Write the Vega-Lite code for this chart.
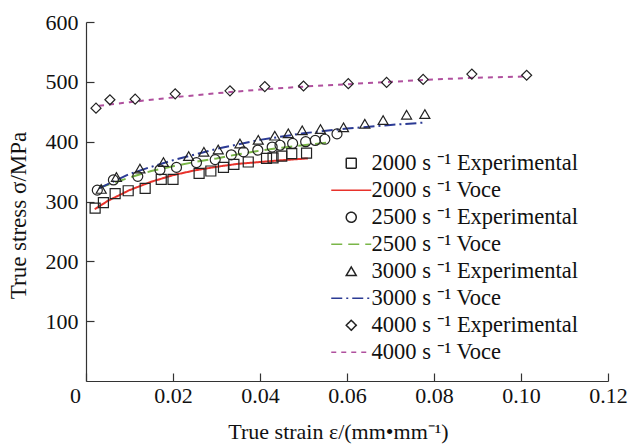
{
  "$schema": "https://vega.github.io/schema/vega-lite/v6.json",
  "width": 522,
  "height": 359,
  "autosize": "none",
  "padding": {"left": 86, "top": 22, "right": 20, "bottom": 66},
  "config": {
    "view": {"stroke": null},
    "font": "Liberation Serif",
    "axis": {
      "labelFont": "Liberation Serif", "titleFont": "Liberation Serif",
      "labelFontSize": 22, "titleFontSize": 22, "labelColor": "#111", "titleColor": "#111",
      "titleFontWeight": "normal", "domainColor": "#333", "tickColor": "#333",
      "grid": false, "tickSize": -8, "domainWidth": 1.2, "tickWidth": 1.2
    },
    "legend": {"labelFont": "Liberation Serif", "labelFontSize": 22.5, "labelColor": "#111", "labelLimit": 400}
  },
  "datasets": {
    "pts": [
      {"series": "2000 s ⁻¹ Experimental", "strain": 0.0021, "stress": 289},
      {"series": "2000 s ⁻¹ Experimental", "strain": 0.0040, "stress": 298},
      {"series": "2000 s ⁻¹ Experimental", "strain": 0.0067, "stress": 313},
      {"series": "2000 s ⁻¹ Experimental", "strain": 0.0097, "stress": 318},
      {"series": "2000 s ⁻¹ Experimental", "strain": 0.0136, "stress": 322},
      {"series": "2000 s ⁻¹ Experimental", "strain": 0.0173, "stress": 337},
      {"series": "2000 s ⁻¹ Experimental", "strain": 0.0200, "stress": 337},
      {"series": "2000 s ⁻¹ Experimental", "strain": 0.0260, "stress": 347},
      {"series": "2000 s ⁻¹ Experimental", "strain": 0.0287, "stress": 351},
      {"series": "2000 s ⁻¹ Experimental", "strain": 0.0316, "stress": 357},
      {"series": "2000 s ⁻¹ Experimental", "strain": 0.0340, "stress": 362},
      {"series": "2000 s ⁻¹ Experimental", "strain": 0.0373, "stress": 366},
      {"series": "2000 s ⁻¹ Experimental", "strain": 0.0415, "stress": 372},
      {"series": "2000 s ⁻¹ Experimental", "strain": 0.0430, "stress": 373},
      {"series": "2000 s ⁻¹ Experimental", "strain": 0.0450, "stress": 376},
      {"series": "2000 s ⁻¹ Experimental", "strain": 0.0473, "stress": 380},
      {"series": "2000 s ⁻¹ Experimental", "strain": 0.0507, "stress": 381},
      {"series": "2500 s ⁻¹ Experimental", "strain": 0.0026, "stress": 319},
      {"series": "2500 s ⁻¹ Experimental", "strain": 0.0063, "stress": 336},
      {"series": "2500 s ⁻¹ Experimental", "strain": 0.0119, "stress": 342},
      {"series": "2500 s ⁻¹ Experimental", "strain": 0.0170, "stress": 353},
      {"series": "2500 s ⁻¹ Experimental", "strain": 0.0208, "stress": 357},
      {"series": "2500 s ⁻¹ Experimental", "strain": 0.0254, "stress": 365},
      {"series": "2500 s ⁻¹ Experimental", "strain": 0.0297, "stress": 370},
      {"series": "2500 s ⁻¹ Experimental", "strain": 0.0334, "stress": 378},
      {"series": "2500 s ⁻¹ Experimental", "strain": 0.0362, "stress": 383},
      {"series": "2500 s ⁻¹ Experimental", "strain": 0.0395, "stress": 386},
      {"series": "2500 s ⁻¹ Experimental", "strain": 0.0428, "stress": 391},
      {"series": "2500 s ⁻¹ Experimental", "strain": 0.0446, "stress": 394},
      {"series": "2500 s ⁻¹ Experimental", "strain": 0.0475, "stress": 397},
      {"series": "2500 s ⁻¹ Experimental", "strain": 0.0505, "stress": 400},
      {"series": "2500 s ⁻¹ Experimental", "strain": 0.0527, "stress": 402},
      {"series": "2500 s ⁻¹ Experimental", "strain": 0.0549, "stress": 404},
      {"series": "2500 s ⁻¹ Experimental", "strain": 0.0577, "stress": 413},
      {"series": "3000 s ⁻¹ Experimental", "strain": 0.0035, "stress": 321},
      {"series": "3000 s ⁻¹ Experimental", "strain": 0.0070, "stress": 341},
      {"series": "3000 s ⁻¹ Experimental", "strain": 0.0124, "stress": 355},
      {"series": "3000 s ⁻¹ Experimental", "strain": 0.0178, "stress": 366},
      {"series": "3000 s ⁻¹ Experimental", "strain": 0.0236, "stress": 376},
      {"series": "3000 s ⁻¹ Experimental", "strain": 0.0271, "stress": 383},
      {"series": "3000 s ⁻¹ Experimental", "strain": 0.0304, "stress": 387},
      {"series": "3000 s ⁻¹ Experimental", "strain": 0.0354, "stress": 397},
      {"series": "3000 s ⁻¹ Experimental", "strain": 0.0396, "stress": 403},
      {"series": "3000 s ⁻¹ Experimental", "strain": 0.0434, "stress": 410},
      {"series": "3000 s ⁻¹ Experimental", "strain": 0.0465, "stress": 414},
      {"series": "3000 s ⁻¹ Experimental", "strain": 0.0497, "stress": 419},
      {"series": "3000 s ⁻¹ Experimental", "strain": 0.0539, "stress": 421},
      {"series": "3000 s ⁻¹ Experimental", "strain": 0.0592, "stress": 424},
      {"series": "3000 s ⁻¹ Experimental", "strain": 0.0641, "stress": 430},
      {"series": "3000 s ⁻¹ Experimental", "strain": 0.0683, "stress": 436},
      {"series": "3000 s ⁻¹ Experimental", "strain": 0.0737, "stress": 445},
      {"series": "3000 s ⁻¹ Experimental", "strain": 0.0779, "stress": 446},
      {"series": "4000 s ⁻¹ Experimental", "strain": 0.0023, "stress": 456},
      {"series": "4000 s ⁻¹ Experimental", "strain": 0.0055, "stress": 470},
      {"series": "4000 s ⁻¹ Experimental", "strain": 0.0113, "stress": 471},
      {"series": "4000 s ⁻¹ Experimental", "strain": 0.0205, "stress": 480},
      {"series": "4000 s ⁻¹ Experimental", "strain": 0.0331, "stress": 485},
      {"series": "4000 s ⁻¹ Experimental", "strain": 0.0411, "stress": 492},
      {"series": "4000 s ⁻¹ Experimental", "strain": 0.0500, "stress": 493},
      {"series": "4000 s ⁻¹ Experimental", "strain": 0.0603, "stress": 497},
      {"series": "4000 s ⁻¹ Experimental", "strain": 0.0691, "stress": 499},
      {"series": "4000 s ⁻¹ Experimental", "strain": 0.0775, "stress": 504},
      {"series": "4000 s ⁻¹ Experimental", "strain": 0.0887, "stress": 513},
      {"series": "4000 s ⁻¹ Experimental", "strain": 0.1013, "stress": 511}
    ],
    "fits": [
      {"series": "2000 s ⁻¹ Voce", "strain": 0.002, "stress": 287},
      {"series": "2000 s ⁻¹ Voce", "strain": 0.005, "stress": 301},
      {"series": "2000 s ⁻¹ Voce", "strain": 0.010, "stress": 319},
      {"series": "2000 s ⁻¹ Voce", "strain": 0.015, "stress": 333},
      {"series": "2000 s ⁻¹ Voce", "strain": 0.020, "stress": 344},
      {"series": "2000 s ⁻¹ Voce", "strain": 0.025, "stress": 352},
      {"series": "2000 s ⁻¹ Voce", "strain": 0.030, "stress": 358},
      {"series": "2000 s ⁻¹ Voce", "strain": 0.035, "stress": 363},
      {"series": "2000 s ⁻¹ Voce", "strain": 0.040, "stress": 366},
      {"series": "2000 s ⁻¹ Voce", "strain": 0.045, "stress": 369},
      {"series": "2000 s ⁻¹ Voce", "strain": 0.051, "stress": 372},
      {"series": "2500 s ⁻¹ Voce", "strain": 0.003, "stress": 323},
      {"series": "2500 s ⁻¹ Voce", "strain": 0.010, "stress": 340},
      {"series": "2500 s ⁻¹ Voce", "strain": 0.015, "stress": 351},
      {"series": "2500 s ⁻¹ Voce", "strain": 0.020, "stress": 359},
      {"series": "2500 s ⁻¹ Voce", "strain": 0.025, "stress": 366},
      {"series": "2500 s ⁻¹ Voce", "strain": 0.030, "stress": 372},
      {"series": "2500 s ⁻¹ Voce", "strain": 0.035, "stress": 379},
      {"series": "2500 s ⁻¹ Voce", "strain": 0.040, "stress": 385},
      {"series": "2500 s ⁻¹ Voce", "strain": 0.045, "stress": 390},
      {"series": "2500 s ⁻¹ Voce", "strain": 0.050, "stress": 394},
      {"series": "2500 s ⁻¹ Voce", "strain": 0.056, "stress": 399},
      {"series": "3000 s ⁻¹ Voce", "strain": 0.003, "stress": 322},
      {"series": "3000 s ⁻¹ Voce", "strain": 0.010, "stress": 346},
      {"series": "3000 s ⁻¹ Voce", "strain": 0.015, "stress": 358},
      {"series": "3000 s ⁻¹ Voce", "strain": 0.020, "stress": 369},
      {"series": "3000 s ⁻¹ Voce", "strain": 0.030, "stress": 388},
      {"series": "3000 s ⁻¹ Voce", "strain": 0.040, "stress": 403},
      {"series": "3000 s ⁻¹ Voce", "strain": 0.050, "stress": 414},
      {"series": "3000 s ⁻¹ Voce", "strain": 0.060, "stress": 422},
      {"series": "3000 s ⁻¹ Voce", "strain": 0.070, "stress": 428},
      {"series": "3000 s ⁻¹ Voce", "strain": 0.078, "stress": 432},
      {"series": "4000 s ⁻¹ Voce", "strain": 0.003, "stress": 460},
      {"series": "4000 s ⁻¹ Voce", "strain": 0.010, "stress": 466},
      {"series": "4000 s ⁻¹ Voce", "strain": 0.020, "stress": 474},
      {"series": "4000 s ⁻¹ Voce", "strain": 0.030, "stress": 481},
      {"series": "4000 s ⁻¹ Voce", "strain": 0.040, "stress": 487},
      {"series": "4000 s ⁻¹ Voce", "strain": 0.050, "stress": 492},
      {"series": "4000 s ⁻¹ Voce", "strain": 0.060, "stress": 496},
      {"series": "4000 s ⁻¹ Voce", "strain": 0.070, "stress": 500},
      {"series": "4000 s ⁻¹ Voce", "strain": 0.080, "stress": 504},
      {"series": "4000 s ⁻¹ Voce", "strain": 0.090, "stress": 507},
      {"series": "4000 s ⁻¹ Voce", "strain": 0.101, "stress": 509}
    ]
  },
  "encoding": {
    "x": {
      "field": "strain", "type": "quantitative",
      "scale": {"domain": [0, 0.12], "nice": false, "zero": false},
      "axis": {
        "title": "True strain ε/(mm•mm⁻¹)",
        "values": [0, 0.02, 0.04, 0.06, 0.08, 0.1, 0.12],
        "labelExpr": "datum.value == 0 ? '0' : format(datum.value, '.2f')",
        "labelPadding": 12, "labelFlush": false,
        "labelOffset": {"condition": {"test": "datum.value == 0", "value": -11}, "value": 0},
        "titlePadding": 15, "titleX": 252
      }
    },
    "y": {
      "field": "stress", "type": "quantitative",
      "scale": {"domain": [0, 600], "nice": false},
      "axis": {
        "title": "True stress  σ/MPa",
        "values": [100, 200, 300, 400, 500, 600],
        "labelPadding": 16, "labelFlush": false,
        "titlePadding": 15, "titleFontSize": 23, "titleY": 193
      }
    },
    "color": {
      "field": "series", "type": "nominal",
      "scale": {
        "domain": ["2000 s ⁻¹ Experimental", "2000 s ⁻¹ Voce", "2500 s ⁻¹ Experimental", "2500 s ⁻¹ Voce", "3000 s ⁻¹ Experimental", "3000 s ⁻¹ Voce", "4000 s ⁻¹ Experimental", "4000 s ⁻¹ Voce"],
        "range": ["#222222", "#e8322b", "#222222", "#7ab648", "#222222", "#2b3a94", "#222222", "#b0509e"]
      },
      "legend": {
        "title": null, "orient": "none", "legendX": 249, "legendY": 130,
        "rowPadding": 4, "symbolOffset": 5, "labelOffset": 9,
        "symbolOpacity": 1, "symbolStrokeWidth": 1.5
      }
    }
  },
  "layer": [
    {
      "data": {"name": "fits"},
      "mark": {"type": "line", "strokeWidth": 2, "opacity": 1},
      "encoding": {
        "strokeDash": {
          "field": "series", "type": "nominal",
          "scale": {
            "domain": ["2000 s ⁻¹ Experimental", "2000 s ⁻¹ Voce", "2500 s ⁻¹ Experimental", "2500 s ⁻¹ Voce", "3000 s ⁻¹ Experimental", "3000 s ⁻¹ Voce", "4000 s ⁻¹ Experimental", "4000 s ⁻¹ Voce"],
            "range": [[1, 0], [1, 0], [1, 0], [11, 6], [1, 0], [11, 4, 2, 4], [1, 0], [5, 5]]
          }
        }
      }
    },
    {
      "data": {"name": "pts"},
      "mark": {"type": "point", "filled": false, "strokeWidth": 1.2, "opacity": 1},
      "encoding": {
        "shape": {
          "field": "series", "type": "nominal",
          "scale": {
            "domain": ["2000 s ⁻¹ Experimental", "2000 s ⁻¹ Voce", "2500 s ⁻¹ Experimental", "2500 s ⁻¹ Voce", "3000 s ⁻¹ Experimental", "3000 s ⁻¹ Voce", "4000 s ⁻¹ Experimental", "4000 s ⁻¹ Voce"],
            "range": ["square", "M-4,0H4", "circle", "M-4,0H4", "triangle-up", "M-4,0H4", "diamond", "M-4,0H4"]
          }
        },
        "size": {
          "field": "series", "type": "nominal",
          "scale": {
            "domain": ["2000 s ⁻¹ Experimental", "2000 s ⁻¹ Voce", "2500 s ⁻¹ Experimental", "2500 s ⁻¹ Voce", "3000 s ⁻¹ Experimental", "3000 s ⁻¹ Voce", "4000 s ⁻¹ Experimental", "4000 s ⁻¹ Voce"],
            "range": [100, 100, 95, 100, 144, 100, 150, 100]
          }
        }
      }
    }
  ]
}
